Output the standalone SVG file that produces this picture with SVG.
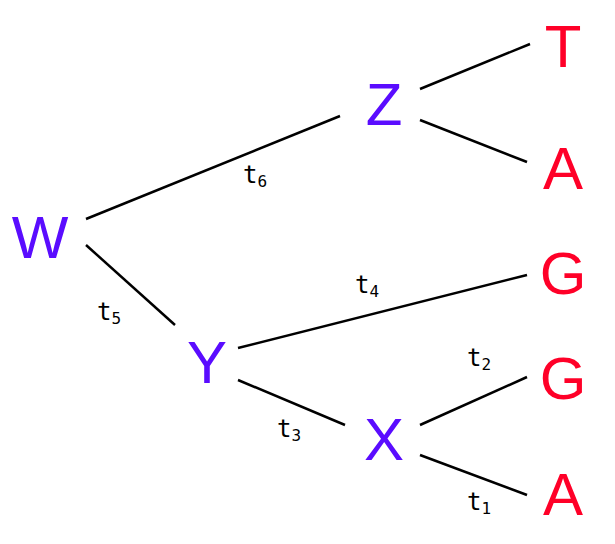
<svg xmlns="http://www.w3.org/2000/svg" width="615" height="544" viewBox="0 0 615 544">
<style>
.n{font-family:"Liberation Sans",Arial,sans-serif;font-size:60px;text-anchor:middle}
.p{fill:#5a0cff}.r{fill:#ff0028}
.l{font-family:"DejaVu Sans Mono","Liberation Mono",monospace;font-size:24px;fill:#000}
.s{font-size:16px}
line{stroke:#000;stroke-width:2.5}
</style>
<rect width="615" height="544" fill="#fff"/>
<g id="connectors">
<line x1="420" y1="89" x2="530" y2="44"/>
<line x1="420" y1="120" x2="527" y2="162"/>
<line x1="86" y1="219" x2="340" y2="116"/>
<line x1="86" y1="245" x2="175" y2="325"/>
<line x1="238" y1="348" x2="527" y2="275"/>
<line x1="238" y1="380" x2="345" y2="425"/>
<line x1="420" y1="425" x2="527" y2="377"/>
<line x1="420" y1="455" x2="527" y2="495"/>
<text class="l" x="243" y="183">t<tspan class="s" dy="4">6</tspan></text>
<text class="l" x="97" y="320">t<tspan class="s" dy="4">5</tspan></text>
<text class="l" x="355" y="293">t<tspan class="s" dy="4">4</tspan></text>
<text class="l" x="277" y="437">t<tspan class="s" dy="4">3</tspan></text>
<text class="l" x="467" y="366">t<tspan class="s" dy="4">2</tspan></text>
<text class="l" x="467" y="510">t<tspan class="s" dy="4">1</tspan></text>
</g>
<g id="W"><text class="n p" x="40" y="258">W</text></g>
<g id="Z"><text class="n p" x="384" y="125">Z</text></g>
<g id="Y"><text class="n p" x="207" y="383">Y</text></g>
<g id="X"><text class="n p" x="384" y="460">X</text></g>
<g id="T"><text class="n r" x="563" y="67">T</text></g>
<g id="A1"><text class="n r" x="563" y="189">A</text></g>
<g id="G1"><text class="n r" x="563" y="294">G</text></g>
<g id="G2"><text class="n r" x="563" y="399">G</text></g>
<g id="A2"><text class="n r" x="563" y="515">A</text></g>
</svg>
